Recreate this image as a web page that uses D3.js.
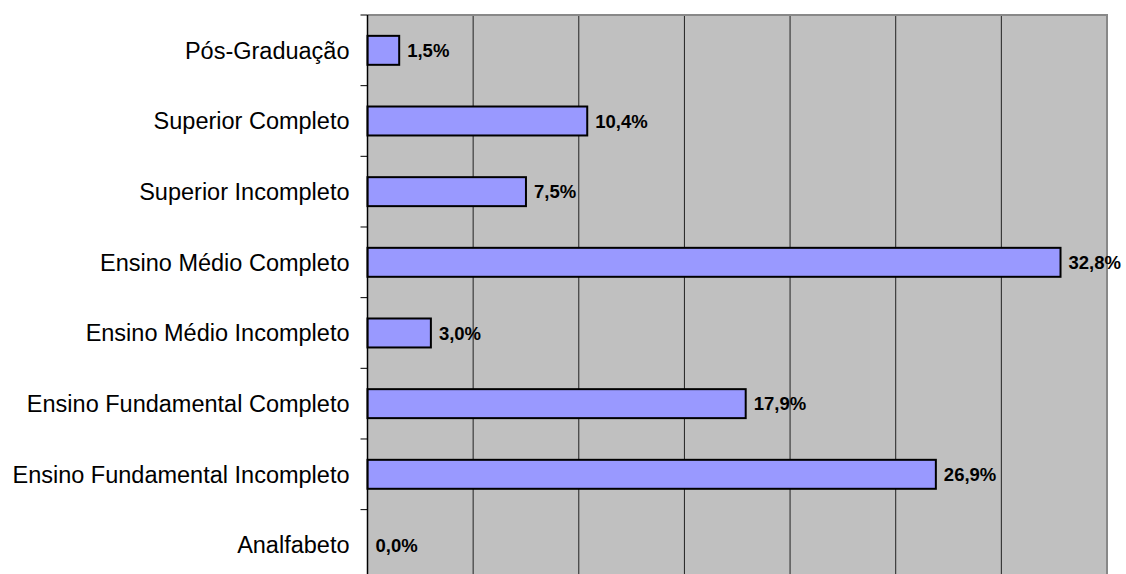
<!DOCTYPE html>
<html>
<head>
<meta charset="utf-8">
<script src="https://cdn.jsdelivr.net/npm/d3@7"></script>
<style>
  body { margin: 0; background: #fff; }
  svg { display: block; }
</style>
</head>
<body>
<div id="chart"></div>
<script>
const width = 1126;
const height = 574;

// data, top to bottom as drawn
const categories = [
    "Pós-Graduação",
    "Superior Completo",
    "Superior Incompleto",
    "Ensino Médio Completo",
    "Ensino Médio Incompleto",
    "Ensino Fundamental Completo",
    "Ensino Fundamental Incompleto",
    "Analfabeto"
];
const values = [1.5, 10.4, 7.5, 32.8, 3.0, 17.9, 26.9, 0.0];
const xTicks = [0, 5, 10, 15, 20, 25, 30, 35];

const plot = { left: 367.5, right: 1107, top: 15, bottom: 580.3 };

const svg = d3.select("#chart")
    .append("svg")
    .attr("width", width)
    .attr("height", height);

const x = d3.scaleLinear()
    .domain([0, 35])
    .range([plot.left, plot.right]);

const y = d3.scaleBand()
    .domain(categories)
    .range([plot.top, plot.bottom])
    .paddingInner(0.59)
    .paddingOuter(0.295);

// plot background
svg.append("rect")
    .attr("x", plot.left)
    .attr("y", plot.top)
    .attr("width", plot.right - plot.left)
    .attr("height", plot.bottom - plot.top)
    .attr("fill", "#c0c0c0");

// vertical gridlines
svg.append("g")
    .selectAll("line")
    .data(xTicks.slice(1, -1))
    .enter().append("line")
    .attr("x1", (d) => x(d))
    .attr("x2", (d) => x(d))
    .attr("y1", plot.top)
    .attr("y2", plot.bottom)
    .attr("stroke", "#222")
    .attr("stroke-width", 1);

// border top / right in grey
svg.append("path")
    .attr("d", `M${plot.left},${plot.top}H${plot.right}V${plot.bottom}`)
    .attr("fill", "none")
    .attr("stroke", "#888")
    .attr("stroke-width", 2);

// bars
const step = y.step();
svg.append("g")
    .selectAll("rect")
    .data(values)
    .enter().append("rect")
    .attr("x", x(0))
    .attr("y", (d, i) => y(categories[i]))
    .attr("width", (d) => x(d) - x(0))
    .attr("height", y.bandwidth())
    .attr("fill", "#9999ff")
    .attr("stroke", (d) => d > 0 ? "#000" : "none")
    .attr("stroke-width", 2);

// value labels
const fmt = (v) => v.toFixed(1).replace(".", ",") + "%";
svg.append("g")
    .selectAll("text")
    .data(values)
    .enter().append("text")
    .attr("x", (d) => x(d) + 8)
    .attr("y", (d, i) => y(categories[i]) + y.bandwidth() / 2)
    .attr("dy", "0.36em")
    .attr("font-family", "Liberation Sans, Arial, sans-serif")
    .attr("font-weight", "bold")
    .attr("font-size", 18.5)
    .attr("fill", "#000")
    .text(fmt);

// left axis
const axis = svg.append("g");
axis.append("line")
    .attr("x1", plot.left)
    .attr("x2", plot.left)
    .attr("y1", plot.top)
    .attr("y2", plot.bottom)
    .attr("stroke", "#000")
    .attr("stroke-width", 1.5);
axis.selectAll(".tick")
    .data(d3.range(categories.length + 1))
    .enter().append("line")
    .attr("x1", plot.left - 7)
    .attr("x2", plot.left)
    .attr("y1", (i) => plot.top + i * step)
    .attr("y2", (i) => plot.top + i * step)
    .attr("stroke", "#000")
    .attr("stroke-width", 1);
axis.selectAll("text")
    .data(categories)
    .enter().append("text")
    .attr("x", plot.left - 18)
    .attr("y", (d) => y(d) + y.bandwidth() / 2)
    .attr("dy", "0.36em")
    .attr("text-anchor", "end")
    .attr("font-family", "Liberation Sans, Arial, sans-serif")
    .attr("font-size", 23.5)
    .attr("fill", "#000")
    .text((d) => d);
</script>
</body>
</html>
